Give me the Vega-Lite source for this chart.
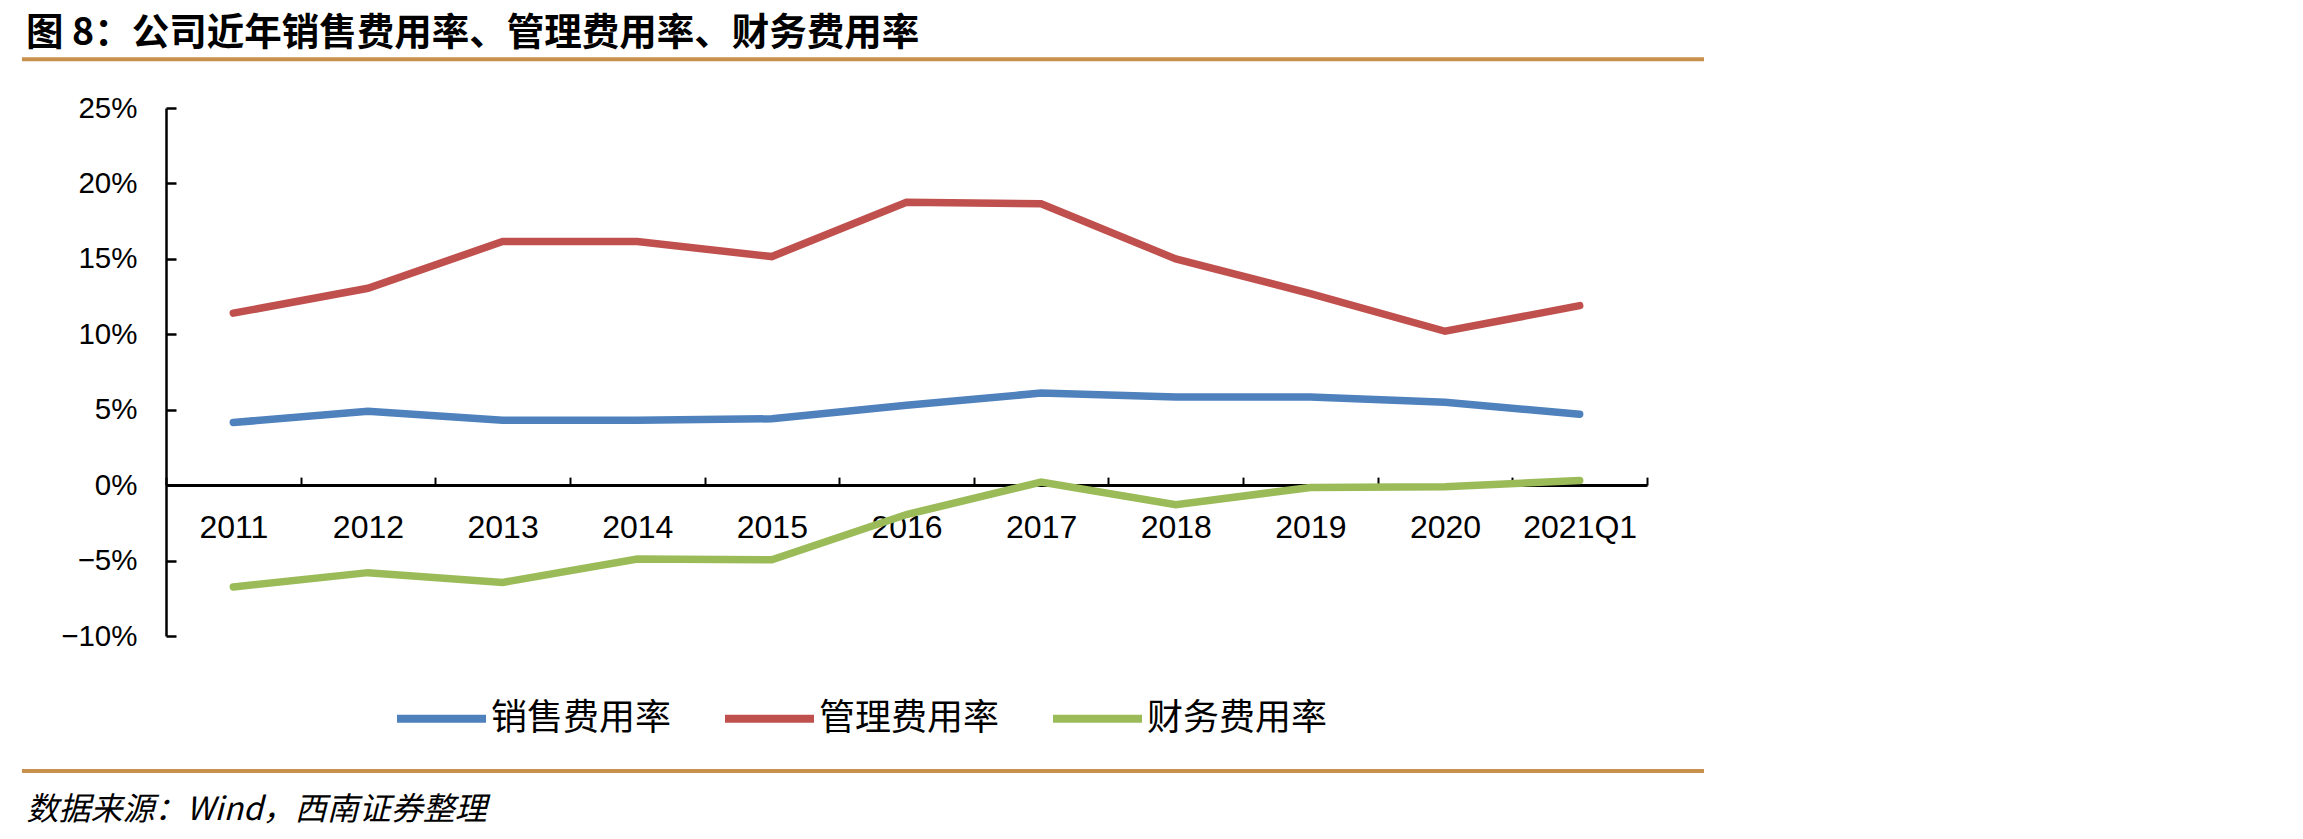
{
  "$schema": "https://vega.github.io/schema/vega-lite/v6.json",
  "autosize": {"type": "none"},
  "padding": {"left": 22, "top": 108, "right": 599, "bottom": 203},
  "width": 1682,
  "height": 528,
  "background": "white",
  "title": {
    "text": "图 8：公司近年销售费用率、管理费用率、财务费用率",
    "anchor": "start",
    "frame": "group",
    "font": "Noto Sans CJK SC",
    "fontSize": 37.5,
    "fontWeight": "bold",
    "color": "black",
    "dx": 4,
    "offset": 5
  },
  "config": {
    "view": {"stroke": null},
    "axis": {"grid": false}
  },
  "datasets": {
    "rates": [
      {"year": "2011", "type": "销售费用率", "value": 0.0415},
      {"year": "2012", "type": "销售费用率", "value": 0.049},
      {"year": "2013", "type": "销售费用率", "value": 0.043},
      {"year": "2014", "type": "销售费用率", "value": 0.043},
      {"year": "2015", "type": "销售费用率", "value": 0.044},
      {"year": "2016", "type": "销售费用率", "value": 0.053},
      {"year": "2017", "type": "销售费用率", "value": 0.061},
      {"year": "2018", "type": "销售费用率", "value": 0.0585},
      {"year": "2019", "type": "销售费用率", "value": 0.0585},
      {"year": "2020", "type": "销售费用率", "value": 0.055},
      {"year": "2021Q1", "type": "销售费用率", "value": 0.047},
      {"year": "2011", "type": "管理费用率", "value": 0.114},
      {"year": "2012", "type": "管理费用率", "value": 0.1305},
      {"year": "2013", "type": "管理费用率", "value": 0.1615},
      {"year": "2014", "type": "管理费用率", "value": 0.1615},
      {"year": "2015", "type": "管理费用率", "value": 0.1515},
      {"year": "2016", "type": "管理费用率", "value": 0.1875},
      {"year": "2017", "type": "管理费用率", "value": 0.1865},
      {"year": "2018", "type": "管理费用率", "value": 0.15},
      {"year": "2019", "type": "管理费用率", "value": 0.127},
      {"year": "2020", "type": "管理费用率", "value": 0.102},
      {"year": "2021Q1", "type": "管理费用率", "value": 0.119},
      {"year": "2011", "type": "财务费用率", "value": -0.0675},
      {"year": "2012", "type": "财务费用率", "value": -0.058},
      {"year": "2013", "type": "财务费用率", "value": -0.0645},
      {"year": "2014", "type": "财务费用率", "value": -0.049},
      {"year": "2015", "type": "财务费用率", "value": -0.0495},
      {"year": "2016", "type": "财务费用率", "value": -0.0195},
      {"year": "2017", "type": "财务费用率", "value": 0.002},
      {"year": "2018", "type": "财务费用率", "value": -0.013},
      {"year": "2019", "type": "财务费用率", "value": -0.0015},
      {"year": "2020", "type": "财务费用率", "value": -0.001},
      {"year": "2021Q1", "type": "财务费用率", "value": 0.003}
    ],
    "separators": [
      {"level": 0.28235},
      {"level": -0.1895}
    ]
  },
  "layer": [
    {
      "data": {"name": "separators"},
      "mark": {"type": "rule", "color": "#C8914B", "strokeWidth": 4},
      "encoding": {
        "y": {"field": "level", "type": "quantitative"}
      }
    },
    {
      "data": {"name": "rates"},
      "mark": {"type": "line", "strokeWidth": 7.5, "strokeCap": "round"},
      "encoding": {
        "x": {
          "field": "year",
          "type": "nominal",
          "sort": ["2011", "2012", "2013", "2014", "2015", "2016", "2017", "2018", "2019", "2020", "2021Q1"],
          "scale": {"type": "band", "range": [144, 1625], "paddingInner": 0, "paddingOuter": 0},
          "axis": {
            "title": "数据来源：Wind，西南证券整理",
            "titleFont": "Noto Sans CJK SC",
            "titleFontSize": 32,
            "titleFontStyle": "italic",
            "titleFontWeight": "normal",
            "titleColor": "black",
            "titleAnchor": "start",
            "titleAlign": "left",
            "titleBaseline": "middle",
            "titleX": 4,
            "titleY": 324,
            "offset": -150.9,
            "labelAngle": 0,
            "labelFont": "Liberation Sans",
            "labelFontSize": 32,
            "labelColor": "black",
            "labelPadding": 35,
            "tickBand": "extent",
            "tickSize": -8,
            "tickWidth": 2,
            "tickColor": "black",
            "domainColor": "black",
            "domainWidth": 3
          }
        },
        "y": {
          "field": "value",
          "type": "quantitative",
          "scale": {"domain": [-0.1, 0.25], "nice": false, "zero": false},
          "axis": {
            "title": null,
            "values": [-0.1, -0.05, 0, 0.05, 0.1, 0.15, 0.2, 0.25],
            "format": ".0%",
            "offset": -144,
            "labelFont": "Liberation Sans",
            "labelFontSize": 29.5,
            "labelColor": "black",
            "labelPadding": 39,
            "tickSize": -10,
            "tickWidth": 2.5,
            "tickColor": "black",
            "domainColor": "black",
            "domainWidth": 2.5
          }
        },
        "color": {
          "field": "type",
          "type": "nominal",
          "scale": {"domain": ["销售费用率", "管理费用率", "财务费用率"], "range": ["#4F81BD", "#C0504D", "#9BBB59"]},
          "legend": {
            "title": null,
            "orient": "none",
            "legendX": 371,
            "legendY": 562,
            "direction": "horizontal",
            "symbolType": "stroke",
            "symbolSize": 7921,
            "symbolStrokeWidth": 8,
            "labelFont": "Noto Sans CJK SC",
            "labelFontSize": 36,
            "labelColor": "black",
            "labelLimit": 400,
            "labelOffset": 1,
            "columnPadding": 37
          }
        }
      }
    }
  ]
}
